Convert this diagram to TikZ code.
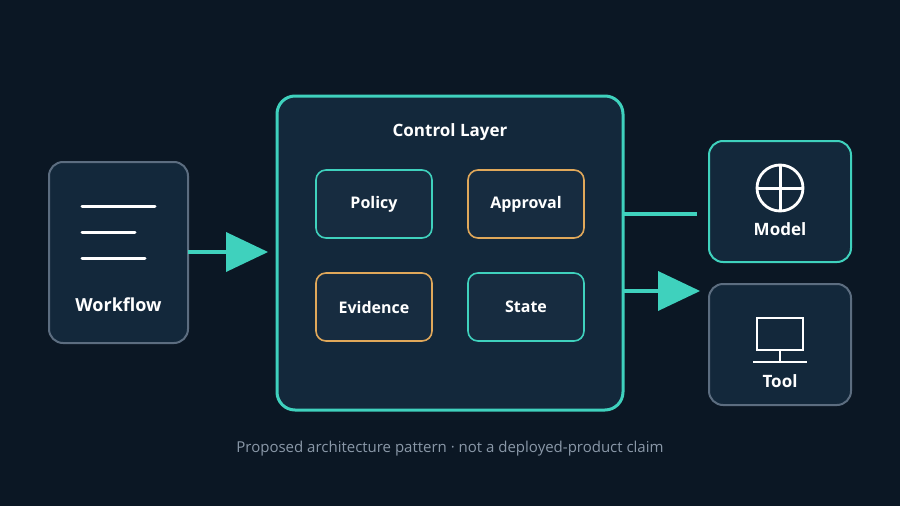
\documentclass[tikz,border=0pt]{standalone}
\usepackage{fontspec}
\setmainfont{Open Sans}[BoldFont={Open Sans Bold}]
\begin{document}
\definecolor{bg}{HTML}{0B1724}
\definecolor{boxf}{HTML}{13283B}
\definecolor{inf}{HTML}{172C40}
\definecolor{teal}{HTML}{3FD1BD}
\definecolor{gr}{HTML}{5C6D80}
\definecolor{orng}{HTML}{E0A85A}
\definecolor{cap}{HTML}{8A98A8}
\begin{tikzpicture}[x=1pt,y=-1pt,
 box/.style={draw=#1,fill=boxf,line width=2pt,rounded corners=14pt},
 inner/.style={draw=#1,fill=inf,line width=1.6pt,rounded corners=10pt,minimum width=116pt,minimum height=68pt,text=white,font=\fontsize{16}{18}\selectfont\bfseries},
 lbl/.style={text=white,font=\fontsize{#1}{20}\selectfont\bfseries},
 ic/.style={draw=white,line width=3pt,line cap=round},
 conn/.style={draw=teal,line width=4pt}]
\fill[bg] (0,0) rectangle (900,506);
\useasboundingbox (0,0) rectangle (900,506);
% workflow
\draw[box=gr] (49,162) rectangle (188,343);
\draw[ic] (82,206) -- (155,206);
\draw[ic] (82,232) -- (135,232);
\draw[ic] (82,258) -- (145,258);
\node[lbl=18] (wf) at (118.5,305) {Workflow};
% control
\draw[box=teal,line width=3pt,rounded corners=18pt] (277,96) rectangle (623,410);
\node[lbl=17] (cl) at (450,132) {Control Layer};
\node[inner=teal] (pol) at (374,204) {Policy};
\node[inner=orng] (app) at (526,204) {Approval};
\node[inner=orng] (evi) at (374,307) {Evidence};
\node[inner=teal] (sta) at (526,307) {State};
% model/tool
\draw[box=teal] (709,141) rectangle (851,262);
\draw[line width=2.8pt,white] (780,188) circle (23);
\draw[ic,line cap=butt] (757,188) -- (803,188) (780,165) -- (780,211);
\node[lbl=17] (mo) at (780,229) {Model};
\draw[box=gr] (709,284) rectangle (851,405);
\draw[ic,line cap=butt,line width=2.6pt] (757,318) rectangle (803,350);
\draw[ic,line cap=butt,line width=2.6pt] (780,350) -- (780,362) (753,362) -- (807,362);
\node[lbl=17] (to) at (780,381) {Tool};
% arrows
\draw[conn] (188,252) -- (228,252);
\fill[teal] (226,232) -- (268,252) -- (226,272) -- cycle;
\draw[conn] (623,214) -- (697,214);
\draw[conn] (623,291) -- (660,291);
\fill[teal] (658,271) -- (700,291) -- (658,311) -- cycle;
\node[text=cap,font=\fontsize{15}{17}\selectfont] (capt) at (450,449) {Proposed architecture pattern · not a deployed-product claim};
\end{tikzpicture}
\end{document}
